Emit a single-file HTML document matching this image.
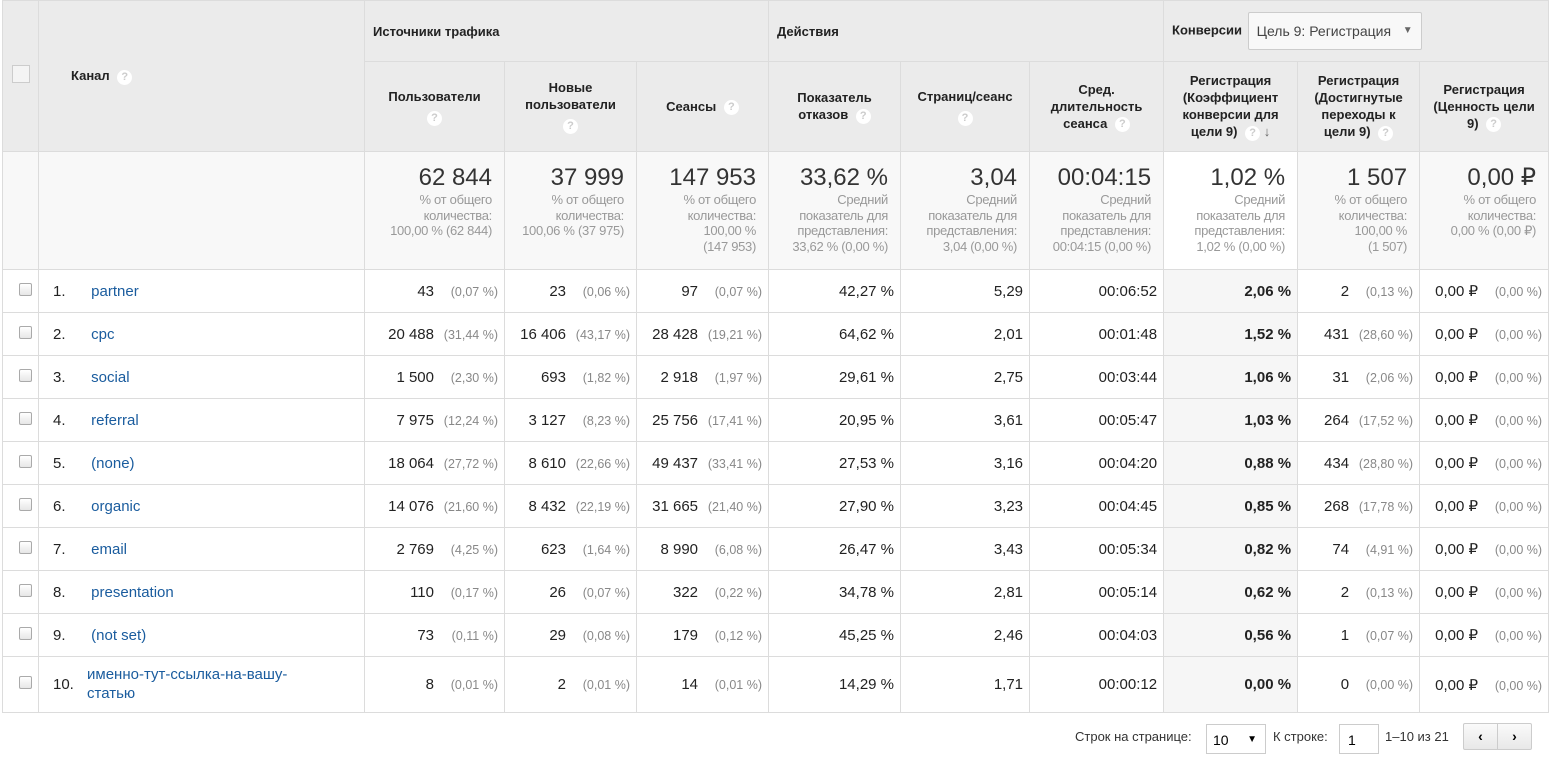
<!DOCTYPE html>
<html><head><meta charset="utf-8"><style>
body{margin:0;background:#fff;font-family:"Liberation Sans",sans-serif;width:1550px;height:757px;overflow:hidden;position:relative}
table{position:absolute;left:2px;top:0;border-collapse:collapse;table-layout:fixed;width:1546px}
td,th{border:1px solid #dcdcdc;padding:0 6px;box-sizing:border-box}
th{background:#ebebeb;font-size:13px;font-weight:bold;color:#222;text-align:center;line-height:17px}
th.g{text-align:left;padding-left:8px}
.q{display:inline-block;width:15px;height:15px;border-radius:50%;background:#fff;color:#ccc;font-size:11px;line-height:15px;text-align:center;vertical-align:middle;margin-left:4px;font-weight:bold}
tr.tot td{background:#f8f8f8;text-align:right;vertical-align:top;padding-top:12px;padding-right:12px;color:#999;font-size:13px;letter-spacing:-0.3px;line-height:15.5px;white-space:nowrap}
tr.tot td b{display:block;font-weight:normal;font-size:24px;letter-spacing:0;color:#333;line-height:28px;margin-bottom:0}
tr.tot td.s{background:#fff}
tr.r td{height:43px;font-size:15px;color:#222;text-align:right;white-space:nowrap}
tr.r td.s{background:#f6f6f6;font-weight:bold}
tr.r td.n{text-align:left;padding-left:14px}
.p{color:#888;font-size:12.5px;display:inline-block;width:64px;text-align:right}
a{color:#1a5c9e;text-decoration:none}
.cb{display:inline-block;width:11px;height:11px;border:1px solid #aaa;border-radius:2px;background:linear-gradient(#fff,#e6e6e6)}
.num{display:inline-block;width:34px;text-align:left}
.pg{position:absolute;font-size:13px;color:#333;white-space:nowrap}
</style></head><body>
<table>
<colgroup><col style="width:36px"><col style="width:326px"><col style="width:140px"><col style="width:132px"><col style="width:132px"><col style="width:132px"><col style="width:129px"><col style="width:134px"><col style="width:134px"><col style="width:122px"><col style="width:129px"></colgroup>
<tr style="height:61px">
<th rowspan="2"><span class="cb" style="width:16px;height:16px;border-radius:0;border-color:#ccc;background:#f4f4f4"></span></th>
<th rowspan="2" class="g" style="padding-left:32px">Канал <span class="q">?</span></th>
<th colspan="3" class="g">Источники трафика</th>
<th colspan="3" class="g">Действия</th>
<th colspan="3" class="g">Конверсии <span style="display:inline-block;margin-left:2px;border:1px solid #ccc;border-radius:2px;background:#f8f8f8;font-weight:normal;color:#444;padding:0 8px;height:36px;line-height:36px;width:156px;vertical-align:middle;font-size:14px">Цель 9: Регистрация <span style="float:right;color:#666;font-size:10px">▼</span></span></th>
</tr>
<tr style="height:90px">
<th>Пользователи<br><span class="q" style="margin:6px 0 0">?</span></th>
<th>Новые пользователи<br><span class="q" style="margin:6px 0 0">?</span></th>
<th>Сеансы <span class="q">?</span></th>
<th>Показатель отказов <span class="q">?</span></th>
<th>Страниц/сеанс<br><span class="q" style="margin:6px 0 0">?</span></th>
<th>Сред. длительность сеанса <span class="q">?</span></th>
<th>Регистрация (Коэффициент конверсии для цели 9) <span class="q">?</span> <span style="color:#666">↓</span></th>
<th>Регистрация (Достигнутые переходы к цели 9) <span class="q">?</span></th>
<th>Регистрация (Ценность цели 9) <span class="q">?</span></th>
</tr>
<tr class="tot" style="height:118px">
<td></td><td></td>
<td><b>62 844</b>% от общего<br>количества:<br>100,00 % (62 844)</td>
<td><b>37 999</b>% от общего<br>количества:<br>100,06 % (37 975)</td>
<td><b>147 953</b>% от общего<br>количества:<br>100,00 %<br>(147 953)</td>
<td><b>33,62 %</b>Средний<br>показатель для<br>представления:<br>33,62 % (0,00 %)</td>
<td><b>3,04</b>Средний<br>показатель для<br>представления:<br>3,04 (0,00 %)</td>
<td><b>00:04:15</b>Средний<br>показатель для<br>представления:<br>00:04:15 (0,00 %)</td>
<td class="s"><b>1,02 %</b>Средний<br>показатель для<br>представления:<br>1,02 % (0,00 %)</td>
<td><b>1 507</b>% от общего<br>количества:<br>100,00 %<br>(1 507)</td>
<td><b>0,00 ₽</b>% от общего<br>количества:<br>0,00 % (0,00 ₽)</td>
</tr>
<tr class="r"><td><span class="cb"></span></td><td class="n"><span class="num">1.</span> <a>partner</a></td><td>43<span class="p">(0,07 %)</span></td><td>23<span class="p">(0,06 %)</span></td><td>97<span class="p">(0,07 %)</span></td><td>42,27 %</td><td>5,29</td><td>00:06:52</td><td class="s">2,06 %</td><td>2<span class="p">(0,13 %)</span></td><td>0,00 ₽<span class="p">(0,00 %)</span></td></tr>
<tr class="r"><td><span class="cb"></span></td><td class="n"><span class="num">2.</span> <a>cpc</a></td><td>20 488<span class="p">(31,44 %)</span></td><td>16 406<span class="p">(43,17 %)</span></td><td>28 428<span class="p">(19,21 %)</span></td><td>64,62 %</td><td>2,01</td><td>00:01:48</td><td class="s">1,52 %</td><td>431<span class="p">(28,60 %)</span></td><td>0,00 ₽<span class="p">(0,00 %)</span></td></tr>
<tr class="r"><td><span class="cb"></span></td><td class="n"><span class="num">3.</span> <a>social</a></td><td>1 500<span class="p">(2,30 %)</span></td><td>693<span class="p">(1,82 %)</span></td><td>2 918<span class="p">(1,97 %)</span></td><td>29,61 %</td><td>2,75</td><td>00:03:44</td><td class="s">1,06 %</td><td>31<span class="p">(2,06 %)</span></td><td>0,00 ₽<span class="p">(0,00 %)</span></td></tr>
<tr class="r"><td><span class="cb"></span></td><td class="n"><span class="num">4.</span> <a>referral</a></td><td>7 975<span class="p">(12,24 %)</span></td><td>3 127<span class="p">(8,23 %)</span></td><td>25 756<span class="p">(17,41 %)</span></td><td>20,95 %</td><td>3,61</td><td>00:05:47</td><td class="s">1,03 %</td><td>264<span class="p">(17,52 %)</span></td><td>0,00 ₽<span class="p">(0,00 %)</span></td></tr>
<tr class="r"><td><span class="cb"></span></td><td class="n"><span class="num">5.</span> <a>(none)</a></td><td>18 064<span class="p">(27,72 %)</span></td><td>8 610<span class="p">(22,66 %)</span></td><td>49 437<span class="p">(33,41 %)</span></td><td>27,53 %</td><td>3,16</td><td>00:04:20</td><td class="s">0,88 %</td><td>434<span class="p">(28,80 %)</span></td><td>0,00 ₽<span class="p">(0,00 %)</span></td></tr>
<tr class="r"><td><span class="cb"></span></td><td class="n"><span class="num">6.</span> <a>organic</a></td><td>14 076<span class="p">(21,60 %)</span></td><td>8 432<span class="p">(22,19 %)</span></td><td>31 665<span class="p">(21,40 %)</span></td><td>27,90 %</td><td>3,23</td><td>00:04:45</td><td class="s">0,85 %</td><td>268<span class="p">(17,78 %)</span></td><td>0,00 ₽<span class="p">(0,00 %)</span></td></tr>
<tr class="r"><td><span class="cb"></span></td><td class="n"><span class="num">7.</span> <a>email</a></td><td>2 769<span class="p">(4,25 %)</span></td><td>623<span class="p">(1,64 %)</span></td><td>8 990<span class="p">(6,08 %)</span></td><td>26,47 %</td><td>3,43</td><td>00:05:34</td><td class="s">0,82 %</td><td>74<span class="p">(4,91 %)</span></td><td>0,00 ₽<span class="p">(0,00 %)</span></td></tr>
<tr class="r"><td><span class="cb"></span></td><td class="n"><span class="num">8.</span> <a>presentation</a></td><td>110<span class="p">(0,17 %)</span></td><td>26<span class="p">(0,07 %)</span></td><td>322<span class="p">(0,22 %)</span></td><td>34,78 %</td><td>2,81</td><td>00:05:14</td><td class="s">0,62 %</td><td>2<span class="p">(0,13 %)</span></td><td>0,00 ₽<span class="p">(0,00 %)</span></td></tr>
<tr class="r"><td><span class="cb"></span></td><td class="n"><span class="num">9.</span> <a>(not set)</a></td><td>73<span class="p">(0,11 %)</span></td><td>29<span class="p">(0,08 %)</span></td><td>179<span class="p">(0,12 %)</span></td><td>45,25 %</td><td>2,46</td><td>00:04:03</td><td class="s">0,56 %</td><td>1<span class="p">(0,07 %)</span></td><td>0,00 ₽<span class="p">(0,00 %)</span></td></tr>
<tr class="r" style="height:55px"><td><span class="cb"></span></td><td class="n" style="white-space:normal"><span class="num" style="float:left;line-height:55px">10.</span><a style="display:inline-block;width:230px;line-height:19px;padding-top:8px">именно-тут-ссылка-на-вашу-статью</a></td><td>8<span class="p">(0,01 %)</span></td><td>2<span class="p">(0,01 %)</span></td><td>14<span class="p">(0,01 %)</span></td><td>14,29 %</td><td>1,71</td><td>00:00:12</td><td class="s">0,00 %</td><td>0<span class="p">(0,00 %)</span></td><td>0,00 ₽<span class="p">(0,00 %)</span></td></tr>
</table>
<div class="pg" style="left:1075px;top:729px">Строк на странице:</div>
<div style="position:absolute;left:1206px;top:724px;width:58px;height:28px;border:1px solid #ccc;background:#fff;font-size:14px;line-height:30px;padding-left:6px;box-sizing:border-box;width:60px;height:30px">10<span style="position:absolute;right:8px;font-size:10px">▼</span></div>
<div class="pg" style="left:1273px;top:729px">К строке:</div>
<div style="position:absolute;left:1339px;top:724px;width:40px;height:30px;border:1px solid #ccc;box-sizing:border-box;font-size:14px;line-height:30px;padding-left:8px">1</div>
<div class="pg" style="left:1385px;top:729px">1–10 из 21</div>
<div style="position:absolute;left:1463px;top:723px;width:69px;height:27px;border:1px solid #ccc;border-radius:2px;box-sizing:border-box;background:linear-gradient(#fafafa,#e8e8e8);font-weight:bold;font-size:14px;line-height:25px"><span style="display:inline-block;width:33px;text-align:center;border-right:1px solid #ccc">‹</span><span style="display:inline-block;width:33px;text-align:center">›</span></div>
</body></html>
